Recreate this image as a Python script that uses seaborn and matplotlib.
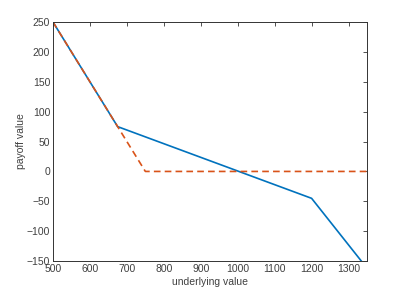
import matplotlib
matplotlib.use("Agg")
import matplotlib.pyplot as plt
import seaborn as sns
import pandas as pd

# payoff of the combined position (solid) and the single put leg (dashed)
combo_x = [500, 675, 1200, 1350]
combo_y = [250, 75, -45, -162]
put_x = [500, 750, 1350]
put_y = [250, 0, 0]

x_ticks = [500, 600, 700, 800, 900, 1000, 1100, 1200, 1300]
y_ticks = [-150, -100, -50, 0, 50, 100, 150, 200, 250]

sns.set_theme(style="white")
plt.rcParams['font.family'] = ['Liberation Sans', 'DejaVu Sans']

fig = plt.figure(figsize=(4.06, 2.94), dpi=100)
ax = fig.add_axes([0.1305, 0.112, 0.7735, 0.813])

df_combo = pd.DataFrame({"x": combo_x, "y": combo_y})
df_put = pd.DataFrame({"x": put_x, "y": put_y})

sns.lineplot(data=df_combo, x="x", y="y", ax=ax, color="#0072BD", lw=1.2,
             sort=False)
sns.lineplot(data=df_put, x="x", y="y", ax=ax, color="#D95319", lw=1.2,
             linestyle=(0, (4, 2.5)), sort=False)

ax.set_xlim(500, 1350)
ax.set_ylim(-150, 250)
ax.set_xticks(x_ticks)
ax.set_yticks(y_ticks)
ax.set_xlabel("underlying value", fontsize=7.5, color="#404040")
ax.set_ylabel("payoff value", fontsize=7.5, color="#404040")
ax.xaxis.set_label_coords(0.5, -0.065)
ax.yaxis.set_label_coords(-0.085, 0.5)
ax.tick_params(direction="in", length=3, width=0.6, top=True, right=True,
               labelsize=7.5, colors="#333333", pad=2)
ax.tick_params(axis="both", labelcolor="#404040")
for s in ax.spines.values():
    s.set_color("#333333")
    s.set_linewidth(0.7)

fig.savefig("out.png", dpi=100)
